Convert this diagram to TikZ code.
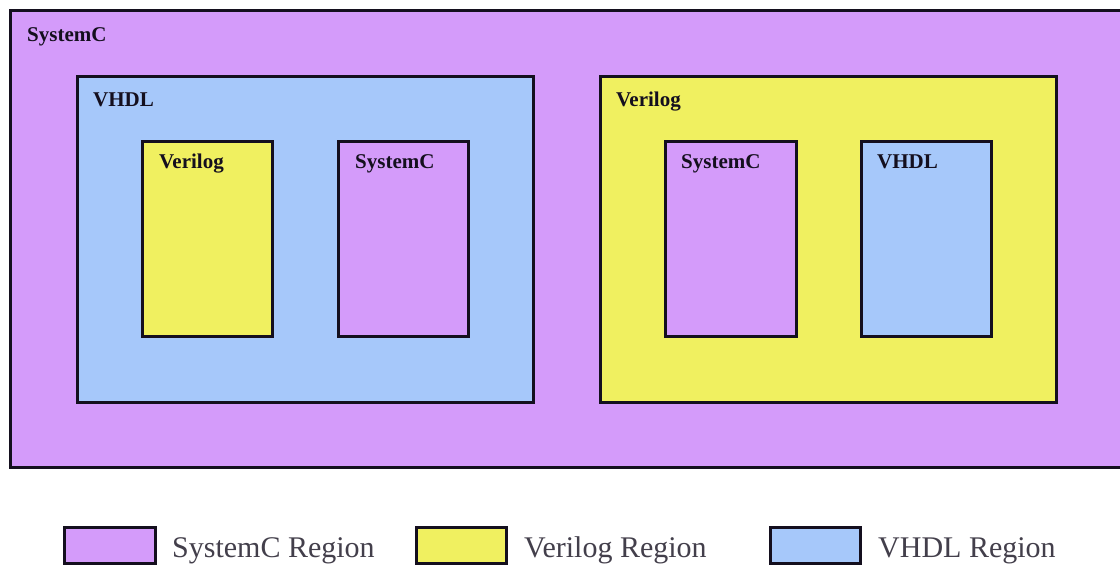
\documentclass[tikz,border=0pt]{standalone}
\usepackage{fontspec}
\setmainfont{Liberation Serif}
\definecolor{scpurple}{RGB}{212,155,250}
\definecolor{vlyellow}{RGB}{240,240,96}
\definecolor{vhblue}{RGB}{166,200,250}
\definecolor{inkdark}{RGB}{20,15,30}
\begin{document}
\begin{tikzpicture}[x=1pt,y=-1pt,
  region/.style={draw=inkdark,line width=3pt},
  boxlabel/.style={anchor=base west,inner sep=0pt,text=inkdark,
    font=\fontsize{21}{21}\selectfont\bfseries},
  legendtext/.style={anchor=base west,inner sep=0pt,text=inkdark!80,
    font=\fontsize{30}{30}\selectfont}]
\useasboundingbox (0,0) rectangle (1120,565);
\clip (0,0) rectangle (1120,565);
\fill[white] (0,0) rectangle (1120,565);

% outer SystemC region (runs past the right edge)
\draw[region,fill=scpurple] (10,10) rectangle (1140,467);
\node[boxlabel] (lblsc) at (27,41) {SystemC};

% VHDL region with nested Verilog and SystemC
\draw[region,fill=vhblue] (77,76) rectangle (533,402);
\node[boxlabel] (lblvh) at (93,106) {VHDL};
\draw[region,fill=vlyellow] (142,141) rectangle (272,336);
\node[boxlabel] (lblvhvl) at (159,168) {Verilog};
\draw[region,fill=scpurple] (338,141) rectangle (468,336);
\node[boxlabel] (lblvhsc) at (355,168) {SystemC};

% Verilog region with nested SystemC and VHDL
\draw[region,fill=vlyellow] (600,76) rectangle (1056,402);
\node[boxlabel] (lblvl) at (616,106) {Verilog};
\draw[region,fill=scpurple] (665,141) rectangle (796,336);
\node[boxlabel] (lblvlsc) at (681,168) {SystemC};
\draw[region,fill=vhblue] (861,141) rectangle (991,336);
\node[boxlabel] (lblvlvh) at (877,168) {VHDL};

% legend
\draw[region,fill=scpurple] (64,527) rectangle (155,563);
\node[legendtext] (legsc) at (172,557) {SystemC Region};
\draw[region,fill=vlyellow] (416,527) rectangle (506,563);
\node[legendtext] (legvl) at (524,557) {Verilog Region};
\draw[region,fill=vhblue] (770,527) rectangle (860,563);
\node[legendtext] (legvh) at (878,557) {VHDL Region};
\end{tikzpicture}
\end{document}
